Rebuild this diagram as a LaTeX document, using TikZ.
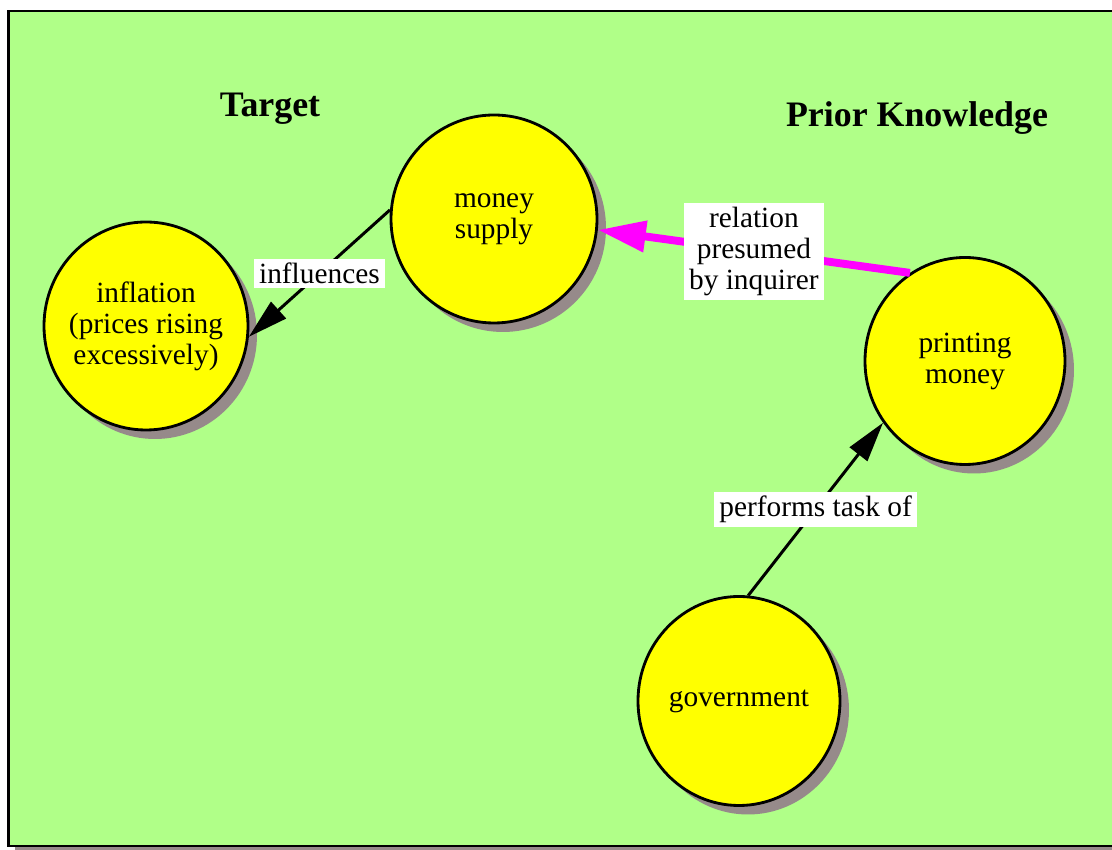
\documentclass[tikz,border=0pt]{standalone}
\usepackage{fontspec}
\setmainfont{Liberation Serif}
\usepackage{tikz}
\usepackage{xcolor}
\usetikzlibrary{arrows.meta,positioning,shapes.geometric,shadows}
\definecolor{cmField}{HTML}{B0FF88}
\definecolor{cmSun}{HTML}{FFFF00}
\definecolor{cmShade}{HTML}{968A8A}
\definecolor{cmPink}{HTML}{FF00FF}
\newcommand{\cmtext}{\fontsize{16.7}{17.6}\selectfont}
\tikzset{
  concept/.style={ellipse,draw=black,line width=1.6pt,fill=cmSun,inner sep=0pt,
                  align=center,font=\cmtext,minimum width=4.08cm,minimum height=4.16cm,
                  drop shadow={shadow xshift=0.18cm,shadow yshift=-0.18cm,fill=cmShade,opacity=1}},
  heading/.style={font=\fontsize{20.4}{24}\selectfont\bfseries},
  link/.style={-{Triangle[length=0.8cm,width=0.44cm]},draw=black,line width=1.7pt},
  guess/.style={-{Triangle[length=0.96cm,width=0.6cm]},draw=cmPink,line width=4.5pt},
  tag/.style={fill=white,align=center,font=\cmtext,inner xsep=0.1cm,inner ysep=0.08cm},
}
\begin{document}
\begin{tikzpicture}
  \useasboundingbox (0,0) rectangle (22.24,17);
  % panel
  \fill[cmShade] (0.3,-0.1) rectangle (22.5,16.68);
  \draw[line width=1.4pt,fill=cmField] (0.17,0.08) rectangle (22.4,16.78);

  \node[heading] at (5.40,14.82) (tgt) {Target};
  \node[heading] at (18.34,14.64) (pk)  {Prior Knowledge};

  \node[concept,inner xsep=-0.3cm] at (2.92,10.48) (inf) {inflation\\(prices rising\\excessively)};
  \node[concept,minimum width=4.12cm] at (9.88,12.62) (ms) {money\\supply};
  \node[concept,minimum width=4.0cm,minimum height=4.14cm] at (19.30,9.78) (pm) {printing\\money};
  \node[concept,minimum width=4.04cm,minimum height=4.18cm] at (14.78,2.98) (gov) {government};

  \draw[link] (ms.175) -- node[tag,pos=0.5]{influences} (inf.-6);
  \draw[guess] (pm.122) -- node[tag,pos=0.5]{relation\\presumed\\by inquirer} (ms.-6);
  \draw[link] (gov.85) -- node[tag,pos=0.5]{performs task of} (pm.-143);
\end{tikzpicture}
\end{document}
